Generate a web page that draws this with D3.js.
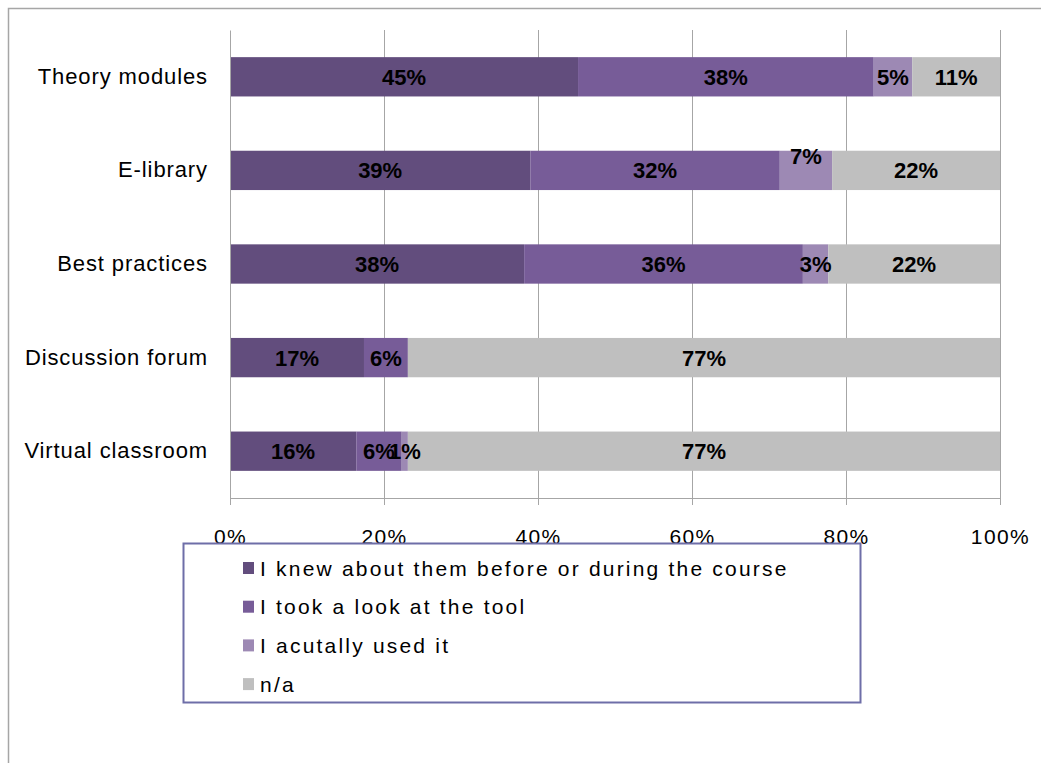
<html>
<head>
    <meta charset="utf-8">
    <style>
        body {
            margin: 0;
            background: white;
            font-family: "Liberation Sans", Arial, sans-serif;
        }
    </style>
    <script src="https://d3js.org/d3.v7.min.js"></script>
</head>
<body>
    <svg id="chart"></svg>
</body>
<script>
    // DATA (shares per tool)
    let categories = ["Theory modules", "E-library", "Best practices", "Discussion forum", "Virtual classroom"]
    let seriesNames = ["I knew about them before or during the course", "I took a look at the tool", "I acutally used it", "n/a"]
    let knew = [45.2, 39.0, 38.2, 17.4, 16.4]
    let looked = [38.4, 32.4, 36.2, 5.7, 5.9]
    let used = [5.0, 6.8, 3.3, 0, 0.8]
    let na = [11.4, 21.8, 22.3, 76.9, 76.9]
    let tickValues = [0, 20, 40, 60, 80, 100]

    let colors = ["#624d7d", "#775c98", "#9d89b4", "#bfbfbf"]

    drawChart()

    function drawChart() {
        let width = 1041
        let height = 763
        let margin = { top: 30, bottom: 265, left: 230, right: 41 }
        let bodyWidth = width - margin.left - margin.right
        let bodyHeight = height - margin.top - margin.bottom

        let svg = d3.select("#chart")
            .attr("width", width)
            .attr("height", height)

        // outer chart frame (runs off the page to the right and bottom)
        svg.append("rect")
            .attr("x", 8.5).attr("y", 8.5)
            .attr("width", width).attr("height", height)
            .attr("fill", "none")
            .attr("stroke", "#a6a6a6")
            .attr("stroke-width", 1.5)

        let rows = categories.map((c, i) => ({
            category: c,
            knew: knew[i],
            looked: looked[i],
            used: used[i],
            na: na[i]
        }))
        let keys = ["knew", "looked", "used", "na"]
        let stacked = d3.stack().keys(keys)(rows)

        let xScale = d3.scaleLinear()
            .domain([0, 100])
            .range([0, bodyWidth])

        let yScale = d3.scaleBand()
            .domain(categories)
            .range([0, bodyHeight])
            .paddingInner(0.58)
            .paddingOuter(0.29)

        let body = svg.append("g")
            .attr("transform", `translate(${margin.left},${margin.top})`)

        // vertical gridlines
        body.append("g").selectAll("line")
            .data(tickValues.slice(1))
            .enter().append("line")
            .attr("x1", d => xScale(d) + 0.5)
            .attr("x2", d => xScale(d) + 0.5)
            .attr("y1", 0)
            .attr("y2", bodyHeight)
            .attr("stroke", "#a6a6a6")

        // bars
        let layers = body.append("g").selectAll("g")
            .data(stacked)
            .enter().append("g")
            .attr("fill", (d, i) => colors[i])

        layers.selectAll("rect")
            .data(d => d)
            .enter().append("rect")
            .attr("x", d => xScale(d[0]))
            .attr("width", d => xScale(d[1]) - xScale(d[0]))
            .attr("y", d => yScale(d.data.category))
            .attr("height", yScale.bandwidth())

        // value labels
        let labels = []
        stacked.forEach((layer, li) => {
            layer.forEach(d => {
                let v = d[1] - d[0]
                if (v <= 0) return
                labels.push({ layer: li, category: d.data.category, x0: d[0], x1: d[1], v })
            })
        })
        body.append("g").selectAll("text")
            .data(labels)
            .enter().append("text")
            .attr("x", d => xScale((d.x0 + d.x1) / 2))
            .attr("y", d => {
                let y = yScale(d.category) + yScale.bandwidth() / 2
                // the small E-library label sits raised above the bar centre
                if (d.category === "E-library" && d.layer === 2) y -= 14
                return y
            })
            .attr("dy", "0.36em")
            .attr("text-anchor", "middle")
            .attr("font-size", 22)
            .attr("font-weight", "bold")
            .attr("fill", "#000")
            .text(d => Math.round(d.v) + "%")

        // y axis
        let yAxis = d3.axisLeft(yScale).tickSize(0).tickPadding(22)
        let yG = body.append("g").call(yAxis)
        yG.select(".domain").attr("stroke", "#a6a6a6")
        yG.selectAll("text")
            .attr("font-size", 22)
            .attr("letter-spacing", 0.9)
            .attr("font-family", "Liberation Sans, Arial, sans-serif")
            .attr("fill", "#000")

        // x axis
        let xAxis = d3.axisBottom(xScale)
            .tickValues(tickValues)
            .tickSize(7)
            .tickPadding(24)
            .tickFormat(d => d + "%")
        let xG = body.append("g")
            .attr("transform", `translate(0,${bodyHeight})`)
            .call(xAxis)
        xG.select(".domain").attr("stroke", "#a6a6a6")
        xG.selectAll(".tick line").attr("stroke", "#a6a6a6")
        xG.selectAll("text")
            .attr("font-size", 21)
            .attr("letter-spacing", 1.4)
            .attr("font-family", "Liberation Sans, Arial, sans-serif")
            .attr("fill", "#000")

        // legend
        let legend = svg.append("g")
        legend.append("rect")
            .attr("x", 183.5).attr("y", 543.5)
            .attr("width", 677).attr("height", 159)
            .attr("fill", "none")
            .attr("stroke", "#6e6ea8")
            .attr("stroke-width", 2)

        let items = legend.selectAll(".item")
            .data(seriesNames)
            .enter().append("g")
            .attr("class", "item")
            .attr("transform", (d, i) => `translate(243,${568 + i * 38.7})`)
        items.append("rect")
            .attr("x", 0).attr("y", -6)
            .attr("width", 11).attr("height", 12)
            .attr("fill", (d, i) => colors[i])
        items.append("text")
            .attr("x", 17)
            .attr("dy", "0.36em")
            .attr("font-size", 21)
            .attr("letter-spacing", 2.2)
            .attr("fill", "#000")
            .text(d => d)
    }
</script>
</html>
